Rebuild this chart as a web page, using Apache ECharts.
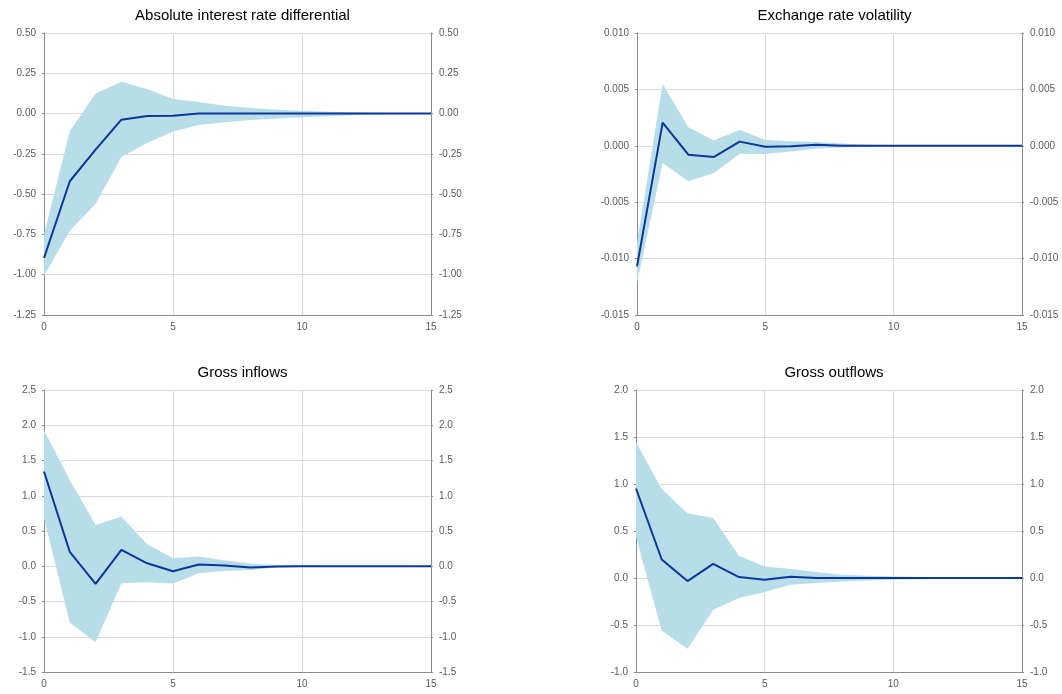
<!DOCTYPE html>
<html>
<head>
<meta charset="utf-8">
<script src="https://cdn.jsdelivr.net/npm/echarts@6/dist/echarts.min.js"></script>
<style>
html,body{margin:0;padding:0;background:#fff;}
#c{width:1062px;height:694px;}
</style>
</head>
<body>
<div id="c"></div>
<script>
// ---- data ----
var horizon = [0,1,2,3,4,5,6,7,8,9,10,11,12,13,14,15];

var titles = ["Absolute interest rate differential","Exchange rate volatility","Gross inflows","Gross outflows"];

var irdLine  = [-0.896,-0.42,-0.224,-0.038,-0.015,-0.013,0,0,0,0,0,0,0,0,0,0];
var irdUpper = [-0.75,-0.11,0.124,0.198,0.152,0.09,0.072,0.049,0.034,0.024,0.018,0.012,0.008,0.004,0.002,0];
var irdLower = [-1.006,-0.727,-0.559,-0.27,-0.183,-0.112,-0.071,-0.054,-0.04,-0.03,-0.023,-0.016,-0.01,-0.006,-0.003,0];

var erLine  = [-0.01069,0.00205,-0.00079,-0.00099,0.00037,-0.00008,-0.00005,0.0001,0,0,0,0,0,0,0,0];
var erUpper = [-0.0086,0.00548,0.00164,0.00046,0.00143,0.00051,0.0004,0.00034,0.0002,0.0001,0.00005,0.00002,0.00001,0,0,0];
var erLower = [-0.01216,-0.00152,-0.00315,-0.00241,-0.0007,-0.00072,-0.0005,-0.00025,-0.00014,-0.00005,-0.00002,-0.00001,0,0,0,0];

var inLine  = [1.344,0.203,-0.25,0.231,0.042,-0.071,0.024,0.01,-0.019,-0.005,0,0,0,0,0,0];
var inUpper = [1.93,1.22,0.585,0.703,0.311,0.113,0.137,0.08,0.038,0.019,0.009,0.004,0.002,0.001,0,0];
var inLower = [0.68,-0.8,-1.075,-0.24,-0.226,-0.245,-0.1,-0.066,-0.052,-0.019,-0.01,-0.005,-0.002,-0.001,0,0];

var outLine  = [0.952,0.197,-0.033,0.151,0.01,-0.019,0.013,0,0,0,0,0,0,0,0,0];
var outUpper = [1.444,0.948,0.69,0.637,0.236,0.123,0.095,0.063,0.034,0.024,0.017,0.01,0.006,0.003,0.001,0];
var outLower = [0.44,-0.56,-0.752,-0.338,-0.214,-0.15,-0.072,-0.054,-0.036,-0.026,-0.019,-0.012,-0.007,-0.004,-0.002,0];

var yMins = [-1.25,-0.015,-1.5,-1.0];
var yMaxs = [0.5,0.01,2.5,2.0];
var yIntervals = [0.25,0.005,0.5,0.5];
var yDecimals = [2,3,1,1];

// ---- layout / style ----
var panels = [
  {line: irdLine, up: irdUpper, lo: irdLower},
  {line: erLine, up: erUpper, lo: erLower},
  {line: inLine, up: inUpper, lo: inLower},
  {line: outLine, up: outUpper, lo: outLower}
];
var gridPos = [
  {left:44, top:33, width:387, height:282},
  {left:637, top:33, width:385, height:282},
  {left:44, top:390, width:387, height:282},
  {left:636, top:390, width:386, height:282}
];
var FONT = '"Liberation Sans", Arial, sans-serif';
var bandColor = '#b7dde8';
var lineColor = '#0a379b';
var axisColor = '#8c8c8c';
var gridColor = '#d9d9d9';
var labelColor = '#5a5a5a';

var option = {
  animation:false,
  backgroundColor:'#fff',
  title:[], grid:[], xAxis:[], yAxis:[], series:[]
};

function pair(arr){ return horizon.map(function(h,i){ return [h, arr[i]]; }); }

panels.forEach(function(p, i){
  var g = gridPos[i];
  option.grid.push({left:g.left, top:g.top, width:g.width, height:g.height, containLabel:false});
  option.title.push({
    text: titles[i], left: g.left + g.width/2, top: i<2 ? 3 : 360, textAlign:'center',
    textStyle:{fontFamily:FONT, fontSize:15, fontWeight:'normal', color:'#000'}
  });
  option.xAxis.push({
    type:'value', gridIndex:i, min:0, max:15, interval:5,
    axisLine:{show:true, onZero:false, lineStyle:{color:axisColor, width:1}},
    axisTick:{show:false},
    axisLabel:{color:labelColor, fontFamily:FONT, fontSize:10, margin:7},
    splitLine:{show:true, lineStyle:{color:gridColor, width:1}}
  });
  var dec = yDecimals[i];
  var yBase = {
    type:'value', gridIndex:i, min:yMins[i], max:yMaxs[i], interval:yIntervals[i],
    axisLine:{show:true, lineStyle:{color:axisColor, width:1}},
    axisTick:{show:true, length:2, lineStyle:{color:axisColor}},
    axisLabel:{color:labelColor, fontFamily:FONT, fontSize:10, margin:8,
      formatter:function(v){ return (Math.abs(v) < 1e-12 ? 0 : v).toFixed(dec); }}
  };
  option.yAxis.push(Object.assign({}, yBase, {position:'left',
    splitLine:{show:true, lineStyle:{color:gridColor, width:1}}}));
  option.yAxis.push(Object.assign({}, yBase, {position:'right',
    splitLine:{show:false}}));

  var bandData = horizon.map(function(h,k){ return [h, p.lo[k], p.up[k]]; });
  option.series.push({
    type:'custom', xAxisIndex:i, yAxisIndex:2*i, data:bandData, silent:true, z:1,
    encode:{x:0, y:[1,2]},
    renderItem:function(params, api){
      if (params.dataIndex !== 0) return null;
      var pts = [];
      for (var k = 0; k < bandData.length; k++) pts.push(api.coord([bandData[k][0], bandData[k][2]]));
      for (var k2 = bandData.length - 1; k2 >= 0; k2--) pts.push(api.coord([bandData[k2][0], bandData[k2][1]]));
      return {type:'polygon', shape:{points:pts}, style:{fill:bandColor, stroke:null}};
    }
  });
  option.series.push({
    type:'line', xAxisIndex:i, yAxisIndex:2*i, data:pair(p.line),
    symbol:'none', lineStyle:{color:lineColor, width:2}, z:3
  });
});

var chart = echarts.init(document.getElementById('c'), null, {renderer:'canvas'});
chart.setOption(option);
</script>
</body>
</html>
